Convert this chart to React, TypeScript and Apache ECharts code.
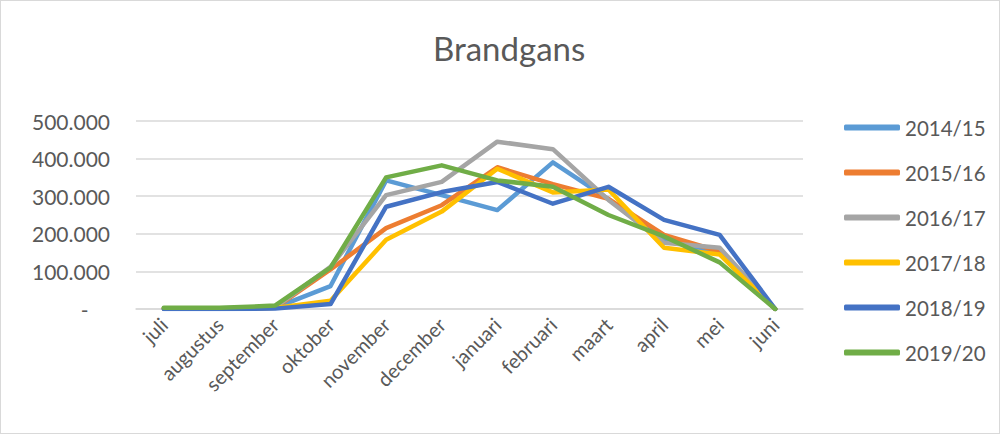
import React, { useEffect, useRef } from "react";
import * as echarts from "echarts";

const months = ["juli", "augustus", "september", "oktober", "november", "december", "januari", "februari", "maart", "april", "mei", "juni"];
const s1415 = [2000, 2000, 3000, 61000, 342000, 303000, 263000, 390000, 292000, 185000, 147000, 0];
const s1516 = [1000, 1000, 3000, 105000, 215000, 276000, 377000, 332000, 293000, 197000, 153000, 0];
const s1617 = [1000, 1000, 4000, 112000, 303000, 338000, 445000, 425000, 290000, 176000, 163000, 0];
const s1718 = [1000, 1000, 3000, 22000, 184000, 259000, 373000, 310000, 318000, 163000, 145000, 0];
const s1819 = [0, 0, 1000, 13000, 272000, 311000, 338000, 280000, 325000, 237000, 197000, 0];
const s1920 = [3000, 3000, 9000, 110000, 350000, 382000, 342000, 325000, 250000, 193000, 124000, 0];

const seriesNames = ["2014/15", "2015/16", "2016/17", "2017/18", "2018/19", "2019/20"];
const seriesData = [s1415, s1516, s1617, s1718, s1819, s1920];
const colors = ["#5b9bd5", "#ed7d31", "#a5a5a5", "#ffc000", "#4472c4", "#70ad47"];

const fmt = (v: number) => {
  if (v === 0) return "-\u00a0\u00a0\u00a0\u00a0";
  const s = String(Math.round(v));
  return s.replace(/\B(?=(\d{3})+(?!\d))/g, ".");
};

export default function App() {
  const ref = useRef<HTMLDivElement>(null);
  useEffect(() => {
    const chart = echarts.init(ref.current!, null, { renderer: "svg" });
    chart.setOption({
      animation: false,
      color: colors,
      textStyle: { fontFamily: "Lato, 'Liberation Sans', sans-serif" },
      title: {
        text: "Brandgans",
        left: 427,
        top: 25,
        textStyle: { fontSize: 33, fontWeight: "normal", color: "#595959", fontFamily: "Lato" },
      },
      grid: { left: 135, right: 196, top: 120, bottom: 124 },
      legend: {
        orient: "vertical",
        left: 838,
        top: 111,
        itemWidth: 56,
        itemHeight: 6,
        itemGap: 24,
        icon: "roundRect",
        textStyle: { fontSize: 20.5, color: "#595959", fontFamily: "Lato", padding: [0, 0, 0, 0] },
        data: seriesNames,
      },
      xAxis: {
        type: "category",
        data: months,
        boundaryGap: true,
        axisLine: { lineStyle: { color: "#d9d9d9", width: 1.5 } },
        axisTick: { show: false },
        axisLabel: { rotate: 45, fontSize: 20, color: "#595959", margin: 12, interval: 0 },
      },
      yAxis: {
        type: "value",
        min: 0,
        max: 500000,
        interval: 100000,
        axisLine: { show: false },
        axisTick: { show: false },
        splitLine: { lineStyle: { color: "#d9d9d9", width: 1.5 } },
        axisLabel: { fontSize: 21, color: "#595959", margin: 26, formatter: fmt },
      },
      series: seriesData.map((d, i) => ({
        name: seriesNames[i],
        type: "line",
        data: d,
        symbol: "none",
        lineStyle: { width: 4.5, color: colors[i], cap: "round", join: "round" },
        itemStyle: { color: colors[i] },
      })),
    });
    return () => chart.dispose();
  }, []);
  return (
    <div
      ref={ref}
      style={{ width: 1000, height: 434, position: "absolute", left: 0, top: 0, boxSizing: "border-box", border: "1px solid #d9d9d9", background: "#fff" }}
    />
  );
}
